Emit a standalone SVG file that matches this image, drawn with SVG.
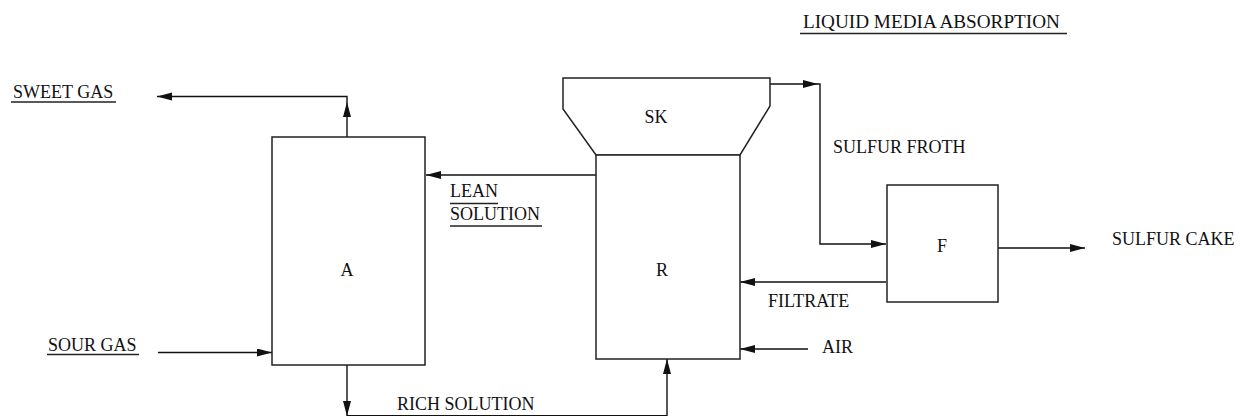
<svg xmlns="http://www.w3.org/2000/svg" width="1240" height="416" viewBox="0 0 1240 416">
<style>
text{font-family:'Liberation Serif','Times New Roman',serif;font-size:18px;fill:#111}
.n{fill:#fff;stroke:#222;stroke-width:1.5}
.c{fill:none;stroke:#111;stroke-width:1.4}
.u{stroke:#222;stroke-width:1.4}
</style>
<defs>
<marker id="arr" markerUnits="userSpaceOnUse" markerWidth="16" markerHeight="10" refX="15" refY="4" orient="auto">
<path d="M0,0 L15,4 L0,8 z" fill="#111"/>
</marker>
</defs>
<rect width="1240" height="416" fill="#fff"/>
<g id="title">
<text x="803" y="28" style="font-size:19.2px">LIQUID MEDIA ABSORPTION</text>
<line class="u" x1="800" y1="33.5" x2="1067" y2="33.5"/>
</g>
<g id="connectors">
<path class="c" d="M347,137 V102" marker-end="url(#arr)"/>
<path class="c" d="M347,102 V96.5 H157" marker-end="url(#arr)"/>
<path class="c" d="M596,175 H426" marker-end="url(#arr)"/>
<path class="c" d="M770,84 H818" marker-end="url(#arr)"/>
<path class="c" d="M818,84 H820 V244 H886" marker-end="url(#arr)"/>
<path class="c" d="M998,248 H1085" marker-end="url(#arr)"/>
<path class="c" d="M886,282 H740" marker-end="url(#arr)"/>
<path class="c" d="M808,349 H740" marker-end="url(#arr)"/>
<path class="c" d="M158,352.5 H272" marker-end="url(#arr)"/>
<path class="c" d="M347,365 V416" marker-end="url(#arr)"/>
<path class="c" d="M347,415.6 H667"/>
<path class="c" d="M667,416 V359" marker-end="url(#arr)"/>
</g>
<g id="labels">
<text x="13" y="98">SWEET GAS</text>
<line class="u" x1="11" y1="102" x2="116" y2="102"/>
<text x="48" y="351">SOUR GAS</text>
<line class="u" x1="47" y1="354.5" x2="139" y2="354.5"/>
<text x="450" y="197">LEAN</text>
<line class="u" x1="450" y1="203.5" x2="498" y2="203.5"/>
<text x="450" y="219.5">SOLUTION</text>
<line class="u" x1="450" y1="226" x2="542" y2="226"/>
<text x="833" y="153">SULFUR FROTH</text>
<text x="1112" y="245">SULFUR CAKE</text>
<text x="768" y="307">FILTRATE</text>
<text x="822" y="353">AIR</text>
<text x="397" y="410">RICH SOLUTION</text>
</g>
<g id="node-A">
<rect class="n" x="272" y="137" width="153" height="228"/>
<text x="347" y="276" text-anchor="middle">A</text>
</g>
<g id="node-SK">
<path class="n" d="M563,78 H770 V106 L740,155 H596 L563,109 Z"/>
<text x="656" y="123" text-anchor="middle">SK</text>
</g>
<g id="node-R">
<rect class="n" x="596" y="155" width="144" height="204"/>
<text x="662" y="276" text-anchor="middle">R</text>
</g>
<g id="node-F">
<rect class="n" x="887" y="185" width="111" height="117"/>
<text x="942" y="252" text-anchor="middle">F</text>
</g>
</svg>
